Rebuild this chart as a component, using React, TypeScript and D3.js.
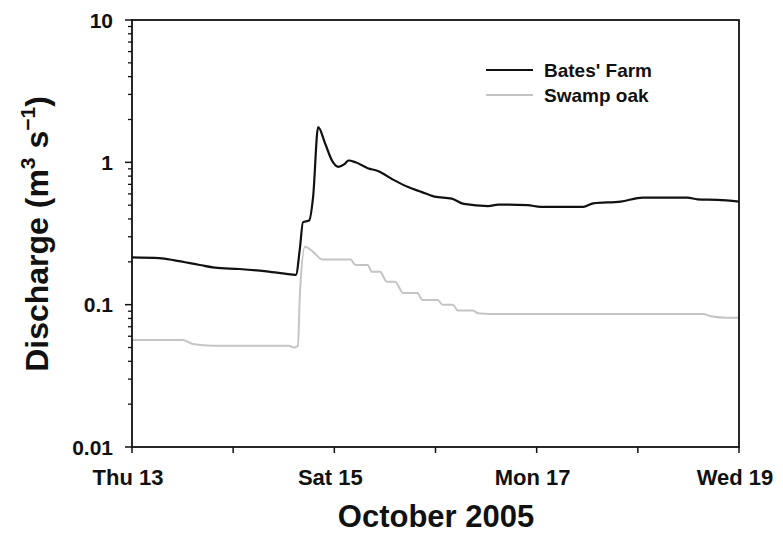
import React from "react";
import * as d3 from "d3";

// Day of October 2005 (fractional) and discharge (m3/s)
const batesDays = [13.0, 13.27, 13.42, 13.67, 13.82, 14.06, 14.31, 14.51, 14.62, 14.66, 14.69, 14.75, 14.79, 14.84, 14.91, 14.98, 15.04, 15.10, 15.14, 15.21, 15.33, 15.43, 15.59, 15.73, 15.86, 15.99, 16.16, 16.28, 16.52, 16.62, 16.91, 17.04, 17.46, 17.56, 17.83, 18.05, 18.49, 18.59, 18.79, 19.0];
const batesValues = [0.215, 0.212, 0.205, 0.19, 0.182, 0.178, 0.172, 0.165, 0.162, 0.25, 0.38, 0.39, 0.57, 1.77, 1.35, 1.02, 0.93, 0.97, 1.03, 1.0, 0.91, 0.87, 0.75, 0.67, 0.62, 0.574, 0.556, 0.51, 0.493, 0.505, 0.5, 0.487, 0.487, 0.515, 0.53, 0.565, 0.565, 0.55, 0.545, 0.53];

const swampDays = [13.0, 13.5, 13.6, 13.8, 14.55, 14.6, 14.64, 14.66, 14.71, 14.79, 14.88, 15.16, 15.21, 15.33, 15.37, 15.45, 15.52, 15.6, 15.68, 15.82, 15.87, 16.02, 16.07, 16.17, 16.22, 16.37, 16.42, 16.55, 18.65, 18.72, 18.88, 19.0];
const swampValues = [0.0565, 0.0565, 0.053, 0.0515, 0.0515, 0.05, 0.0515, 0.12, 0.255, 0.235, 0.208, 0.208, 0.19, 0.19, 0.17, 0.17, 0.145, 0.145, 0.121, 0.121, 0.108, 0.108, 0.1, 0.1, 0.091, 0.091, 0.087, 0.086, 0.086, 0.083, 0.081, 0.081];

const dayTicks = [13, 14, 15, 16, 17, 18, 19];
const dayLabels: Record<number, string> = { 13: "Thu 13", 15: "Sat 15", 17: "Mon 17", 19: "Wed 19" };
const yMajor = [0.01, 0.1, 1, 10];
const yMajorLabels = ["0.01", "0.1", "1", "10"];
const seriesNames = ["Bates' Farm", "Swamp oak"];
const seriesColors = ["#111111", "#c4c4c4"];

const W = 783, H = 541;
const L = 132, R = 739, T = 20, B = 447;
const FONT = "'Liberation Sans', Arial, sans-serif";

export default function App() {
  const x = d3.scaleLinear().domain([13, 19]).range([L, R]);
  const y = d3.scaleLog().domain([0.01, 10]).range([B, T]);
  const line = d3.line<[number, number]>().x(d => x(d[0])).y(d => y(d[1])).curve(d3.curveMonotoneX);
  const bates = batesDays.map((d, i) => [d, batesValues[i]] as [number, number]);
  const swamp = swampDays.map((d, i) => [d, swampValues[i]] as [number, number]);

  const minors: number[] = [];
  for (let e = -2; e < 1; e++) for (let k = 2; k <= 9; k++) minors.push(k * Math.pow(10, e));

  return (
    <svg width={W} height={H} style={{ position: "absolute", left: 0, top: 0, background: "#fff" }} fontFamily={FONT}>
      <rect x={0} y={0} width={W} height={H} fill="#fff" />
      <path d={line(swamp) || ""} fill="none" stroke={seriesColors[1]} strokeWidth={2} strokeLinejoin="round" />
      <path d={line(bates) || ""} fill="none" stroke={seriesColors[0]} strokeWidth={2.2} strokeLinejoin="round" />
      <rect x={L} y={T} width={R - L} height={B - T} fill="none" stroke="#111" strokeWidth={1.8} />
      {minors.map((v, i) => (
        <line key={"m" + i} x1={L - 4} x2={L} y1={y(v)} y2={y(v)} stroke="#111" strokeWidth={1.3} />
      ))}
      {yMajor.map((v, i) => (
        <g key={"y" + i}>
          <line x1={L - 7} x2={L} y1={y(v)} y2={y(v)} stroke="#111" strokeWidth={1.5} />
          <text x={113} y={y(v)} dy="0.36em" textAnchor="end" fontSize={21} fontWeight="bold" fill="#111">{yMajorLabels[i]}</text>
        </g>
      ))}
      {dayTicks.map(d => (
        <g key={"x" + d}>
          <line x1={x(d)} x2={x(d)} y1={B} y2={B + 6} stroke="#111" strokeWidth={1.5} />
          {dayLabels[d] && (
            <text x={x(d) - 4} y={485} textAnchor="middle" fontSize={22} fontWeight="bold" fill="#111">{dayLabels[d]}</text>
          )}
        </g>
      ))}
      <text x={436} y={527} textAnchor="middle" fontSize={31} fontWeight="bold" fill="#111">October 2005</text>
      <text transform={`translate(48,234) rotate(-90)`} textAnchor="middle" fontSize={32} fontWeight="bold" fill="#111">
        Discharge (m
        <tspan fontSize={21} dy={-13}>3</tspan>
        <tspan dy={13}> s</tspan>
        <tspan fontSize={21} dy={-13}>{"\u22121"}</tspan>
        <tspan dy={13}>)</tspan>
      </text>
      {seriesNames.map((n, i) => (
        <g key={n}>
          <line x1={486} x2={533} y1={70 + i * 25} y2={70 + i * 25} stroke={seriesColors[i]} strokeWidth={2} />
          <text x={544} y={70 + i * 25} dy="0.36em" fontSize={19} fontWeight="bold" fill="#111">{n}</text>
        </g>
      ))}
    </svg>
  );
}
